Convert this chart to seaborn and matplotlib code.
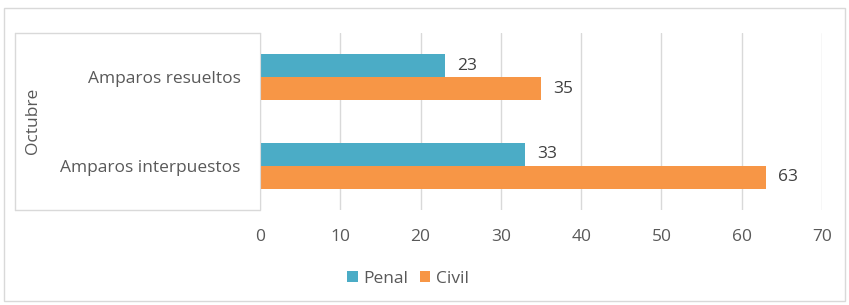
import pandas as pd
import seaborn as sns
import matplotlib.pyplot as plt
from matplotlib.lines import Line2D
from matplotlib.patches import Rectangle

categorias = ['Amparos resueltos', 'Amparos interpuestos']
penal = [23, 33]
civil = [35, 63]
series = ['Penal', 'Civil']
colores = ['#4BACC6', '#F79646']
ticks = [0, 10, 20, 30, 40, 50, 60, 70]

df = pd.DataFrame({
    'categoria': categorias * 2,
    'valor': penal + civil,
    'serie': [series[0]] * len(penal) + [series[1]] * len(civil),
})

sns.set_style('white')
plt.rcParams['font.family'] = ['Open Sans', 'DejaVu Sans']
gris = '#595959'
linea = '#d9d9d9'
fs = 12.5

fig = plt.figure(figsize=(8.49, 3.05), dpi=100)
ax = fig.add_axes([260 / 849, 1 - 210 / 305, 562 / 849, 177 / 305])

sns.barplot(data=df, x='valor', y='categoria', hue='serie', orient='h',
            palette=colores, width=0.52, saturation=1, linewidth=0, ax=ax)

for c in ax.containers:
    ax.bar_label(c, padding=9, fontsize=fs, color='#404040')

ax.set_xlim(0, 70)
ax.set_xticks(ticks)
ax.tick_params(axis='both', length=0, labelsize=fs, colors=gris)
ax.tick_params(axis='x', pad=14)
ax.tick_params(axis='y', pad=14)
ax.xaxis.grid(True, color=linea, lw=1)
ax.set_axisbelow(True)
ax.set_xlabel('')
ax.set_ylabel('')
for s in ['top', 'right', 'bottom']:
    ax.spines[s].set_visible(False)
ax.spines['left'].set_color(linea)

# caja de la categoria externa
W, H = 849, 305
for (x0, y0, x1, y1) in [(15, 33, 260, 33), (15, 210, 260, 210), (15, 33, 15, 210)]:
    fig.add_artist(Line2D([x0 / W, x1 / W], [1 - y0 / H, 1 - y1 / H], color=linea, lw=1))
fig.text(33 / W, 1 - 121 / H, 'Octubre', rotation=90, ha='center', va='center',
         fontsize=fs, color=gris)

# borde exterior
fig.add_artist(Rectangle((4 / W, 4 / H), 841 / W, 293 / H, transform=fig.transFigure,
                         fill=False, edgecolor=linea, lw=1))

ax.legend(loc='center', bbox_to_anchor=(408 / W, 1 - 279 / H), bbox_transform=fig.transFigure,
          ncol=2, frameon=False, fontsize=fs, labelcolor=gris, handlelength=0.6,
          handleheight=0.6, handletextpad=0.3, columnspacing=0.7)

fig.savefig('out.png', dpi=100)
